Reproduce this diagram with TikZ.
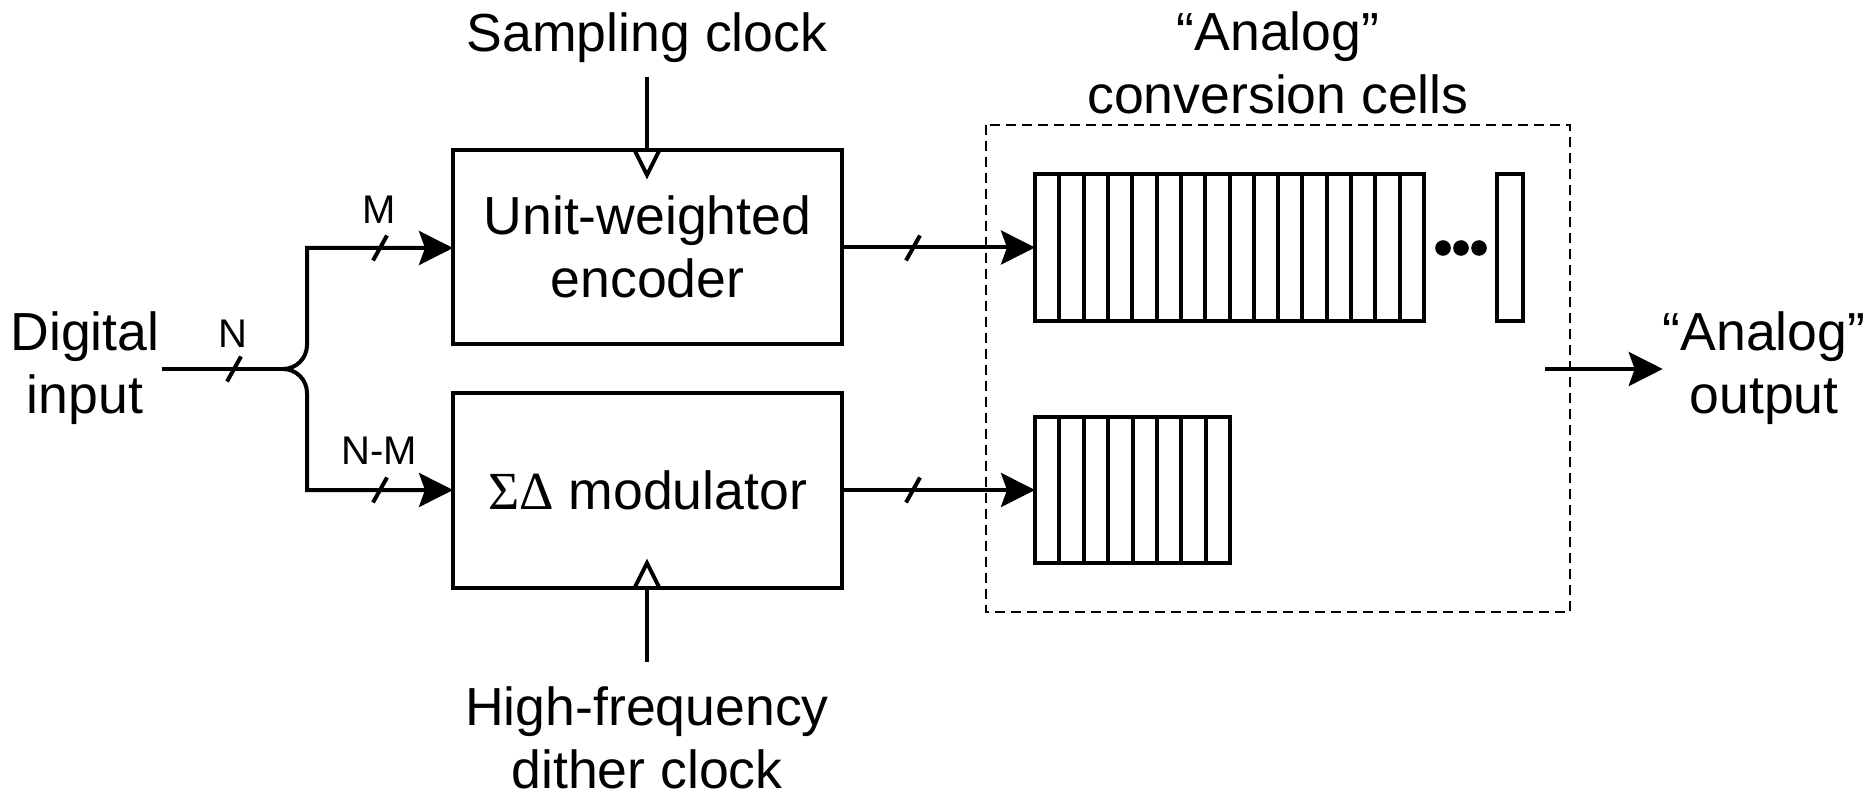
\documentclass[tikz,border=0pt]{standalone}
\usepackage{fontspec}
\setmainfont{Liberation Sans}
\newfontfamily\greekserif{Liberation Serif}
\usetikzlibrary{arrows.meta,calc}

\begin{document}
\begin{tikzpicture}[x=0.5pt,y=-0.5pt,
  every node/.style={inner sep=0pt, outer sep=0pt},
  lbl/.style={font=\fontsize{26.8}{31.5}\selectfont, align=center},
  bus/.style={font=\fontsize{20}{24}\selectfont},
  wire/.style={line width=2pt},
  block/.style={draw, line width=2pt, minimum width=194.5pt, lbl},
  bank/.style={draw, line width=2pt},
  arr/.style={wire, -{Stealth[length=17pt,width=17pt,inset=3pt]}},
  clktip/.style={wire, line join=miter},
  group/.style={line width=0.7pt, dash pattern=on 5pt off 3pt},
]
\useasboundingbox (0,0) rectangle (1868,796);

% text labels
\node[lbl] (digin) at (85,368) {Digital\\input};
\node[lbl] (sclk) at (647,38) {Sampling clock};
\node[lbl] (dclk) at (647,738) {High-frequency\\dither clock};
\node[lbl] (cellslbl) at (1278,63) {“Analog”\\conversion cells};
\node[lbl] (aout) at (1764,368) {“Analog”\\output};

% processing blocks
\node[block, minimum height=97pt] (enc) at (647.5,247) {Unit-weighted\\encoder};
\node[block, minimum height=97.5pt] (sdm) at (647.5,490.5) {{\greekserif ΣΔ} modulator};

% conversion cell banks
\node[bank, minimum width=194.5pt, minimum height=73.5pt] (bankA) at (1229.5,247.5) {};
\foreach \i in {1,...,15}
  \draw[wire] ($(bankA.north west)+({\i*24.3125},0)$) -- ($(bankA.south west)+({\i*24.3125},0)$);
\node[bank, minimum width=13pt, minimum height=73.5pt] (lastcell) at (1510,247.5) {};
\foreach \cx in {1443,1461,1479}
  \fill (\cx,248) circle[radius=7.8];

\node[bank, minimum width=97.5pt, minimum height=73pt] (bankB) at (1132.5,490) {};
\foreach \i in {1,...,7}
  \draw[wire] ($(bankB.north west)+({\i*24.375},0)$) -- ($(bankB.south west)+({\i*24.375},0)$);

% dashed group around the cells
\draw[group] (986,125) rectangle (1570,612);

% input split
\coordinate (split) at (283,369);
\coordinate (upC) at (307,248);
\coordinate (loC) at (307,490);
\draw[wire] ($(digin.east)+(3,1)$) -- (split);
\draw[arr] (split) .. controls +(13.25,0) and +(0,13.25) .. (307,345) -- (upC) -- (upC -| enc.west);
\draw[arr] (split) .. controls +(13.25,0) and +(0,-13.25) .. (307,393) -- (loC) -- (loC -| sdm.west);

% block outputs
\draw[arr] (enc.east |- bankA.west) -- (bankA.west);
\draw[arr] (sdm.east |- bankB.west) -- (bankB.west);

% analog output
\coordinate (outS) at (1545,369);
\draw[arr] (outS) -- (aout.west |- outS);

% clock inputs with open triangle markers inside the blocks
\coordinate (sc0) at (647,77);
\draw[wire] (sc0) -- (sc0 |- enc.north);
\draw[clktip] ($(sc0 |- enc.north)+(-12.5,0)$) -- ($(sc0 |- enc.north)+(0,25)$) -- ($(sc0 |- enc.north)+(12.5,0)$);
\coordinate (dc0) at (647,662);
\draw[wire] (dc0) -- (dc0 |- sdm.south);
\draw[clktip] ($(dc0 |- sdm.south)+(-12.5,0)$) -- ($(dc0 |- sdm.south)+(0,-25)$) -- ($(dc0 |- sdm.south)+(12.5,0)$);

% bus width marks
\foreach \sx/\sy in {234/369, 380/248, 380/490, 913/248, 913/490}
  \draw[wire] (\sx-7,\sy+12.5) -- (\sx+7,\sy-12.5);
\node[bus] (nlbl) at (233,334) {N};
\node[bus] (mlbl) at (379,210) {M};
\node[bus] (nmlbl) at (379,451) {N-M};
\end{tikzpicture}
\end{document}
